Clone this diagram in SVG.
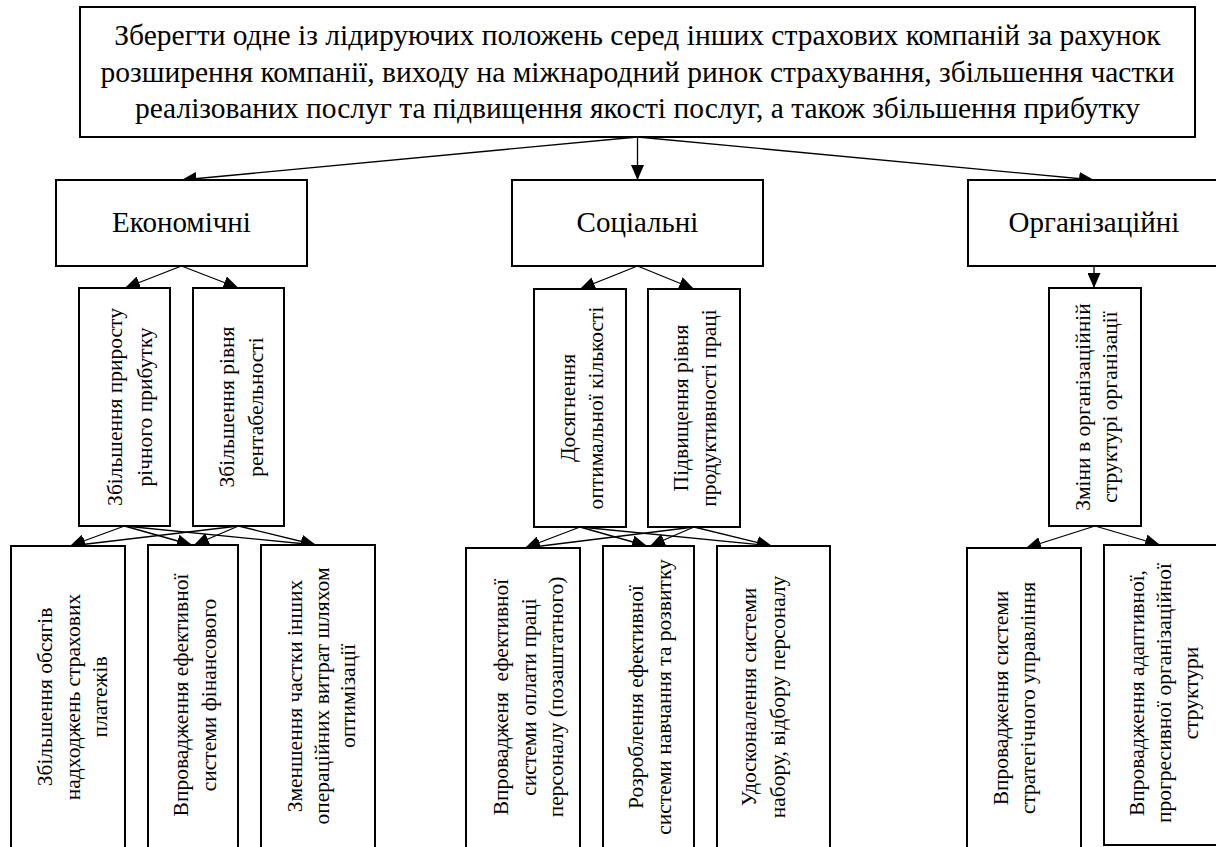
<svg xmlns="http://www.w3.org/2000/svg" width="1216" height="847" viewBox="0 0 1216 847">
<defs>
<marker id="ah" viewBox="0 0 15 13" refX="15" refY="6.5" markerWidth="15" markerHeight="13" markerUnits="userSpaceOnUse" orient="auto">
<path d="M0,0 L15,6.5 L0,13 Z" fill="#000"/>
</marker>
<style>
.box{fill:#fff;stroke:#000;stroke-width:2}
.t{font-family:"Liberation Serif","Times New Roman",serif;fill:#000;text-anchor:middle}
.top{font-size:29.5px}
.mid{font-size:29px}
.v{font-size:21.5px}
.c{stroke:#000;stroke-width:1.3;fill:none;marker-end:url(#ah)}
</style>
</defs>
<rect width="1216" height="847" fill="#fff"/>
<g id="connectors">
<line class="c" x1="637.5" y1="137" x2="181.5" y2="180"/>
<line class="c" x1="637.5" y1="137" x2="637.5" y2="180"/>
<line class="c" x1="637.5" y1="137" x2="1094" y2="180"/>
<line class="c" x1="181.5" y1="266" x2="125" y2="288"/>
<line class="c" x1="181.5" y1="266" x2="238.5" y2="288"/>
<line class="c" x1="637.5" y1="266" x2="580" y2="289"/>
<line class="c" x1="637.5" y1="266" x2="694" y2="289"/>
<line class="c" x1="1094" y1="266" x2="1094" y2="288"/>
<line class="c" x1="124.5" y1="526" x2="70" y2="546"/>
<line class="c" x1="124.5" y1="526" x2="192" y2="545"/>
<line class="c" x1="124.5" y1="526" x2="316" y2="545"/>
<line class="c" x1="238.5" y1="526" x2="70" y2="546"/>
<line class="c" x1="238.5" y1="526" x2="194" y2="545"/>
<line class="c" x1="238.5" y1="526" x2="316" y2="545"/>
<line class="c" x1="580" y1="527" x2="525" y2="548"/>
<line class="c" x1="580" y1="527" x2="647" y2="546"/>
<line class="c" x1="580" y1="527" x2="772" y2="546"/>
<line class="c" x1="694" y1="527" x2="525" y2="548"/>
<line class="c" x1="694" y1="527" x2="650" y2="546"/>
<line class="c" x1="694" y1="527" x2="772" y2="546"/>
<line class="c" x1="1095" y1="526" x2="1026" y2="548"/>
<line class="c" x1="1095" y1="526" x2="1160" y2="545"/>
</g>
<g id="goal">
<rect class="box" x="80" y="7" width="1115" height="130"/>
<text class="t top" x="637.5" y="45">Зберегти одне із лідируючих положень серед інших страхових компаній за рахунок</text>
<text class="t top" x="637.5" y="82">розширення компанії, виходу на міжнародний ринок страхування, збільшення частки</text>
<text class="t top" x="637.5" y="118">реалізованих послуг та підвищення якості послуг, а також збільшення прибутку</text>
</g>
<g id="econ">
<rect class="box" x="56" y="180" width="251" height="86"/>
<text class="t mid" x="181.5" y="232">Економічні</text>
</g>
<g id="social">
<rect class="box" x="512" y="180" width="251" height="86"/>
<text class="t mid" x="637.5" y="232">Соціальні</text>
</g>
<g id="org">
<rect class="box" x="968" y="180" width="252" height="86"/>
<text class="t mid" x="1094" y="232">Організаційні</text>
</g>
<g id="e1">
<rect class="box" x="79" y="288" width="91" height="238"/>
<text class="t v" transform="translate(124.5,407) rotate(-90)"><tspan x="0" y="-2.5">Збільшення приросту</tspan><tspan x="0" y="27.5">річного прибутку</tspan></text>
</g>
<g id="e2">
<rect class="box" x="193" y="288" width="91" height="238"/>
<text class="t v" transform="translate(238.5,407) rotate(-90)"><tspan x="0" y="-5">Збільшення рівня</tspan><tspan x="0" y="24.5">рентабельності</tspan></text>
</g>
<g id="s1">
<rect class="box" x="534" y="289" width="92" height="238"/>
<text class="t v" transform="translate(580,408) rotate(-90)"><tspan x="0" y="-5">Досягнення</tspan><tspan x="0" y="22.5">оптимальної кількості</tspan></text>
</g>
<g id="s2">
<rect class="box" x="648" y="289" width="92" height="238"/>
<text class="t v" transform="translate(694,408) rotate(-90)"><tspan x="0" y="-6">Підвищення рівня</tspan><tspan x="0" y="21.5">продуктивності праці</tspan></text>
</g>
<g id="o1">
<rect class="box" x="1049" y="288" width="92" height="238"/>
<text class="t v" transform="translate(1095,407) rotate(-90)"><tspan x="0" y="-5">Зміни в організаційній</tspan><tspan x="0" y="22">структурі організації</tspan></text>
</g>
<g id="b1">
<rect class="box" x="11" y="546" width="114" height="306"/>
<text class="t v" transform="translate(68,697) rotate(-90)"><tspan x="0" y="-16">Збільшення обсягів</tspan><tspan x="0" y="12">надходжень страхових</tspan><tspan x="0" y="39">платежів</tspan></text>
</g>
<g id="b2">
<rect class="box" x="148" y="545" width="90" height="307"/>
<text class="t v" transform="translate(193,695) rotate(-90)"><tspan x="0" y="-5">Впровадження ефективної</tspan><tspan x="0" y="22.5">системи фінансового</tspan></text>
</g>
<g id="b3">
<rect class="box" x="261" y="545" width="114" height="307"/>
<text class="t v" transform="translate(318,696) rotate(-90)"><tspan x="0" y="-16">Зменшення частки інших</tspan><tspan x="0" y="10.5">операційних витрат шляхом</tspan><tspan x="0" y="37">оптимізації</tspan></text>
</g>
<g id="sb1">
<rect class="box" x="466" y="548" width="114" height="304"/>
<text class="t v" transform="translate(523,697) rotate(-90)" xml:space="preserve"><tspan x="0" y="-15">Впровадженя  ефективної</tspan><tspan x="0" y="12.5">системи оплати праці</tspan><tspan x="0" y="40">персоналу (позаштатного)</tspan></text>
</g>
<g id="sb2">
<rect class="box" x="603" y="546" width="91" height="306"/>
<text class="t v" transform="translate(648.5,697) rotate(-90)"><tspan x="0" y="-5.5">Розроблення ефективної</tspan><tspan x="0" y="22.5">системи навчання та розвитку</tspan></text>
</g>
<g id="sb3">
<rect class="box" x="717" y="546" width="113" height="306"/>
<text class="t v" transform="translate(773.5,697) rotate(-90)"><tspan x="0" y="-17.5">Удосконалення системи</tspan><tspan x="0" y="11.5">набору, відбору персоналу</tspan></text>
</g>
<g id="ob1">
<rect class="box" x="967" y="548" width="114" height="304"/>
<text class="t v" transform="translate(1024,698) rotate(-90)"><tspan x="0" y="-16">Впровадження системи</tspan><tspan x="0" y="11">стратегічного управління</tspan></text>
</g>
<g id="ob2">
<rect class="box" x="1104" y="545" width="122" height="300"/>
<text class="t v" transform="translate(1165,693) rotate(-90)"><tspan x="0" y="-21">Впровадження адаптивної,</tspan><tspan x="0" y="6">прогресивної організаційної</tspan><tspan x="0" y="33">структури</tspan></text>
</g>
</svg>
